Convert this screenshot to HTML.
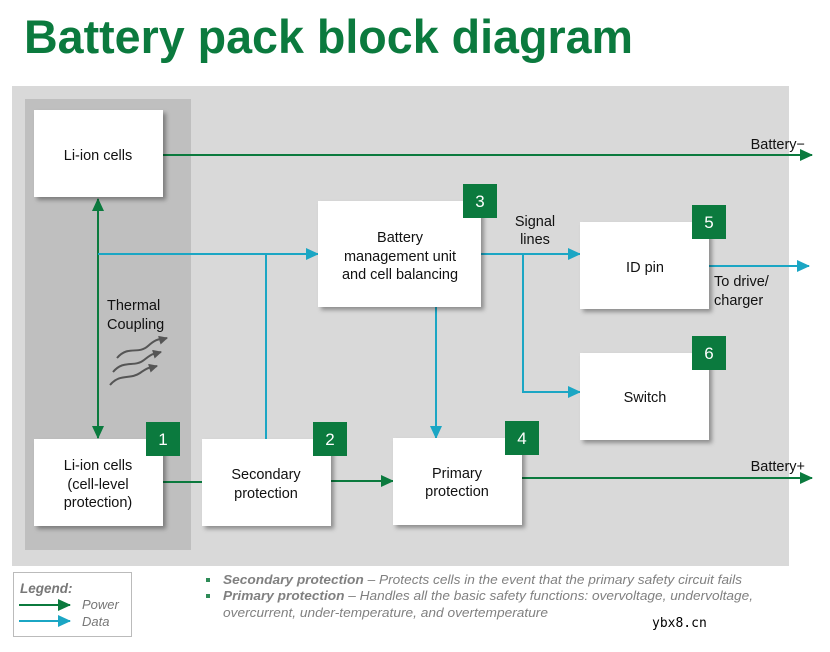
<!DOCTYPE html>
<html><head><meta charset="utf-8"><style>
body{margin:0;background:#fff;}
svg{display:block;font-family:"Liberation Sans",Arial,sans-serif;}
</style></head><body>
<svg width="830" height="652" viewBox="0 0 830 652" xmlns="http://www.w3.org/2000/svg">
<defs>
<marker id="g" markerWidth="13" markerHeight="12" refX="12" refY="6" orient="auto" markerUnits="userSpaceOnUse"><path d="M0,0 L13,6 L0,12 z" fill="#0b7a3e"/></marker>
<marker id="gs" markerWidth="13" markerHeight="12" refX="1" refY="6" orient="auto" markerUnits="userSpaceOnUse"><path d="M13,0 L0,6 L13,12 z" fill="#0b7a3e"/></marker>
<marker id="c" markerWidth="13" markerHeight="12" refX="12" refY="6" orient="auto" markerUnits="userSpaceOnUse"><path d="M0,0 L13,6 L0,12 z" fill="#1ba6c4"/></marker>
<marker id="d" markerWidth="9" markerHeight="9" refX="8" refY="4.5" orient="auto" markerUnits="userSpaceOnUse"><path d="M0,0 L9,4.5 L0,9 z" fill="#555"/></marker>
<filter id="sh" x="-10%" y="-10%" width="130%" height="130%"><feDropShadow dx="3" dy="3" stdDeviation="2" flood-color="#000" flood-opacity="0.35"/></filter>
</defs>
<text x="24" y="53" font-size="47" font-weight="bold" fill="#0b7a3e" textLength="609" lengthAdjust="spacingAndGlyphs">Battery pack block diagram</text>
<rect x="12" y="86" width="777" height="480" fill="#d9d9d9"/>
<rect x="25" y="99" width="166" height="451" fill="#bfbfbf"/>
<g fill="none" stroke-width="2">
<line x1="163" y1="155" x2="812" y2="155" stroke="#0b7a3e" marker-end="url(#g)"/>
<line x1="522" y1="478" x2="812" y2="478" stroke="#0b7a3e" marker-end="url(#g)"/>
<line x1="163" y1="482" x2="202" y2="482" stroke="#0b7a3e"/>
<line x1="331" y1="481" x2="393" y2="481" stroke="#0b7a3e" marker-end="url(#g)"/>
<line x1="98" y1="199" x2="98" y2="438" stroke="#0b7a3e" marker-start="url(#gs)" marker-end="url(#g)"/>
<line x1="98" y1="254" x2="318" y2="254" stroke="#1ba6c4" marker-end="url(#c)"/>
<line x1="266" y1="254" x2="266" y2="439" stroke="#1ba6c4"/>
<line x1="436" y1="307" x2="436" y2="438" stroke="#1ba6c4" marker-end="url(#c)"/>
<line x1="481" y1="254" x2="580" y2="254" stroke="#1ba6c4" marker-end="url(#c)"/>
<polyline points="523,254 523,392 580,392" stroke="#1ba6c4" marker-end="url(#c)"/>
<line x1="709" y1="266" x2="809" y2="266" stroke="#1ba6c4" marker-end="url(#c)"/>
</g>
<g fill="#fff" filter="url(#sh)">
<rect x="34" y="110" width="129" height="87"/>
<rect x="34" y="439" width="129" height="87"/>
<rect x="202" y="439" width="129" height="87"/>
<rect x="318" y="201" width="163" height="106"/>
<rect x="393" y="438" width="129" height="87"/>
<rect x="580" y="222" width="129" height="87"/>
<rect x="580" y="353" width="129" height="87"/>
</g>
<g fill="#0b7a3e">
<rect x="146" y="422" width="34" height="34"/>
<rect x="313" y="422" width="34" height="34"/>
<rect x="463" y="184" width="34" height="34"/>
<rect x="505" y="421" width="34" height="34"/>
<rect x="692" y="205" width="34" height="34"/>
<rect x="692" y="336" width="34" height="34"/>
</g>
<g fill="#fff" font-size="17" text-anchor="middle">
<text x="163" y="445">1</text><text x="330" y="445">2</text><text x="480" y="207">3</text>
<text x="522" y="444">4</text><text x="709" y="228">5</text><text x="709" y="359">6</text>
</g>
<g font-size="14.5" fill="#111" text-anchor="middle">
<text x="98" y="160">Li-ion cells</text>
<text x="98" y="470">Li-ion cells</text><text x="98" y="489">(cell-level</text><text x="98" y="507">protection)</text>
<text x="266" y="479">Secondary</text><text x="266" y="498">protection</text>
<text x="400" y="242">Battery</text><text x="400" y="261">management unit</text><text x="400" y="279">and cell balancing</text>
<text x="457" y="478">Primary</text><text x="457" y="496">protection</text>
<text x="645" y="272">ID pin</text>
<text x="645" y="402">Switch</text>
<text x="535" y="226">Signal</text><text x="535" y="244">lines</text>
</g>
<g font-size="14.5" fill="#111" text-anchor="end">
<text x="805" y="149">Battery−</text>
<text x="805" y="471">Battery+</text>
</g>
<g font-size="14.5" fill="#111">
<text x="714" y="286">To drive/</text><text x="714" y="305">charger</text>
<text x="107" y="310">Thermal</text><text x="107" y="329">Coupling</text>
</g>
<g fill="none" stroke="#555" stroke-width="2">
<path d="M117,358 C128,345 138,355 148,346 S160,340 167,338" marker-end="url(#d)"/>
<path d="M113,372 C124,359 134,368 144,360 S154,354 161,352" marker-end="url(#d)"/>
<path d="M110,385 C120,373 130,380 140,373 S150,368 157,366" marker-end="url(#d)"/>
</g>
<rect x="13.5" y="572.5" width="118" height="64" fill="#fff" stroke="#bbb"/>
<text x="20" y="593" font-size="13.5" font-weight="bold" font-style="italic" fill="#777">Legend:</text>
<line x1="19" y1="605" x2="70" y2="605" stroke="#0b7a3e" stroke-width="2" marker-end="url(#g)"/>
<line x1="19" y1="621" x2="70" y2="621" stroke="#1ba6c4" stroke-width="2" marker-end="url(#c)"/>
<text x="82" y="609" font-size="13" font-style="italic" fill="#777">Power</text>
<text x="82" y="626" font-size="13" font-style="italic" fill="#777">Data</text>
<g font-size="13.3" font-style="italic" fill="#808080">
<rect x="206" y="578" width="4" height="4" fill="#2e8b57"/>
<rect x="206" y="594" width="4" height="4" fill="#2e8b57"/>
<text x="223" y="584" textLength="519" lengthAdjust="spacingAndGlyphs"><tspan font-weight="bold">Secondary protection</tspan> – Protects cells in the event that the primary safety circuit fails</text>
<text x="223" y="600" textLength="530" lengthAdjust="spacingAndGlyphs"><tspan font-weight="bold">Primary protection</tspan> – Handles all the basic safety functions: overvoltage, undervoltage,</text>
<text x="223" y="617" textLength="325" lengthAdjust="spacingAndGlyphs">overcurrent, under-temperature, and overtemperature</text>
</g>
<text x="652" y="627" font-size="13" font-family="DejaVu Sans Mono,monospace" fill="#000">ybx8.cn</text>
</svg>
</body></html>
